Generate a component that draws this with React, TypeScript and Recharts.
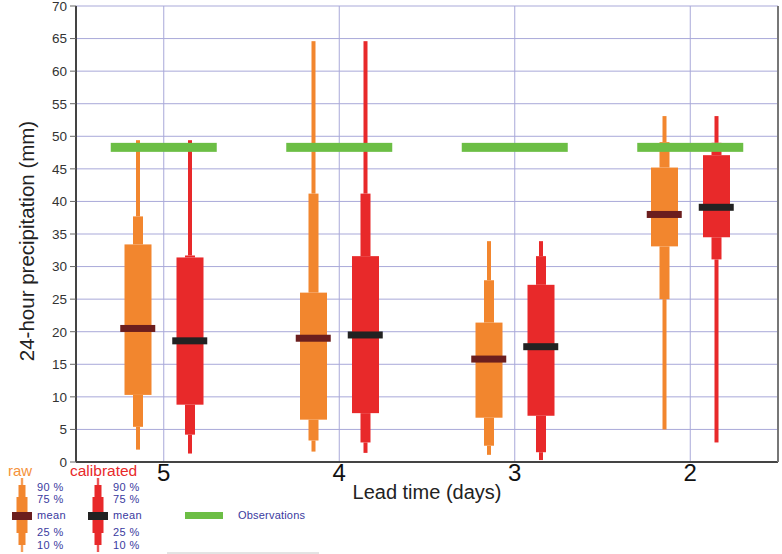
import {
  ComposedChart,
  Bar,
  Scatter,
  XAxis,
  YAxis,
  CartesianGrid,
} from "recharts";

const leadTimes = ["5", "4", "3", "2"];

// raw ensemble percentiles (mm)
const rawMin = [1.9, 1.6, 1.1, 5.0];
const rawP10 = [5.4, 3.3, 2.5, 25.0];
const rawP25 = [10.3, 6.5, 6.8, 33.1];
const rawMean = [20.5, 19.0, 15.8, 38.0];
const rawP75 = [33.4, 26.0, 21.4, 45.2];
const rawP90 = [37.7, 41.2, 27.9, 49.1];
const rawMax = [49.4, 64.6, 33.9, 53.1];

// calibrated ensemble percentiles (mm)
const calMin = [1.3, 1.4, 0.3, 3.0];
const calP10 = [4.2, 3.0, 1.5, 31.1];
const calP25 = [8.8, 7.5, 7.1, 34.5];
const calMean = [18.6, 19.5, 17.7, 39.1];
const calP75 = [31.4, 31.6, 27.2, 47.1];
const calP90 = [31.7, 41.2, 31.6, 49.0];
const calMax = [49.4, 64.6, 33.9, 53.1];

const observed = [48.3, 48.3, 48.3, 48.3];

const yTicks = [0, 5, 10, 15, 20, 25, 30, 35, 40, 45, 50, 55, 60, 65, 70];

const ORANGE = "#f2862e";
const RED = "#e8292a";
const GREEN = "#6cbe45";
const GRID = "#a9a9d9";
const FONT = "'Liberation Sans', Arial, sans-serif";

const data = leadTimes.map((lead, i) => ({
  lead,
  rawBase: rawMin[i],
  rawS1: rawP10[i] - rawMin[i],
  rawS2: rawP25[i] - rawP10[i],
  rawS3: rawP75[i] - rawP25[i],
  rawS4: rawP90[i] - rawP75[i],
  rawS5: rawMax[i] - rawP90[i],
  calBase: calMin[i],
  calS1: calP10[i] - calMin[i],
  calS2: calP25[i] - calP10[i],
  calS3: calP75[i] - calP25[i],
  calS4: calP90[i] - calP75[i],
  calS5: calMax[i] - calP90[i],
  rawMean: rawMean[i],
  calMean: calMean[i],
  obs: observed[i],
}));

const segment = (w: number, color: string) => (props: any) => {
  const { x, y, width, height } = props;
  if (x == null || width == null) return <g />;
  const h = Math.abs(height || 0);
  const top = height < 0 ? y + height : y;
  return (
    <rect x={x + width / 2 - w / 2} y={top} width={w} height={h} fill={color} />
  );
};

const hidden = () => <g />;

const marker = (dx: number, w: number, h: number, color: string) => (props: any) => {
  const { cx, cy } = props;
  if (cx == null || cy == null) return <g />;
  return <rect x={cx + dx - w / 2} y={cy - h / 2} width={w} height={h} fill={color} />;
};

const YLabel = (props: any) => {
  const vb = props.viewBox || { x: 0, y: 6, width: 76, height: 456 };
  const cy = vb.y + vb.height / 2 + 7;
  return (
    <text
      x={34}
      y={cy}
      transform={`rotate(-90, 34, ${cy})`}
      textAnchor="middle"
      fontFamily={FONT}
      fontSize={20.5}
      fill="#222"
    >
      24-hour precipitation (mm)
    </text>
  );
};

function MiniBox({ cx, color, meanColor }: { cx: number; color: string; meanColor: string }) {
  return (
    <g>
      <rect x={cx - 1.2} y={478} width={2.4} height={74} fill={color} opacity={0.8} />
      <rect x={cx - 3.5} y={485} width={7} height={60} fill={color} />
      <rect x={cx - 5.5} y={497} width={11} height={36} fill={color} />
      <rect x={cx - 10} y={512} width={20} height={8} fill={meanColor} />
    </g>
  );
}

function LegendOverlay() {
  const lab = { fontFamily: FONT, fontSize: 11, fill: "#3a3aa0", letterSpacing: 0.4 };
  return (
    <svg
      width={782}
      height={554}
      style={{ position: "absolute", left: 0, top: 0, pointerEvents: "none" }}
    >
      <text x={8} y={476} fontFamily={FONT} fontSize={15} fill="#f5923a">
        raw
      </text>
      <text x={70} y={476} fontFamily={FONT} fontSize={15.5} fill={RED}>
        calibrated
      </text>
      <MiniBox cx={22} color={ORANGE} meanColor="#6b1e1e" />
      <MiniBox cx={98} color={RED} meanColor="#222222" />
      {[37, 113].map((x) => (
        <g key={x}>
          <text x={x} y={491} {...lab}>90 %</text>
          <text x={x} y={503} {...lab}>75 %</text>
          <text x={x} y={519} {...lab}>mean</text>
          <text x={x} y={536} {...lab}>25 %</text>
          <text x={x} y={549} {...lab}>10 %</text>
        </g>
      ))}
      <rect x={185} y={512} width={38} height={7} fill={GREEN} />
      <text x={238} y={519} {...lab} letterSpacing={0.2}>Observations</text>
      <line x1={167} y1={553} x2={319} y2={553} stroke="#c8c8c8" />
    </svg>
  );
}

export default function App() {
  return (
    <div style={{ position: "absolute", left: 0, top: 0, width: 782, height: 554, background: "#fff" }}>
      <ComposedChart
        width={782}
        height={554}
        data={data}
        barGap={16}
        margin={{ top: 6, right: 2, left: 0, bottom: 54 }}
      >
        <CartesianGrid stroke={GRID} />
        <XAxis
          dataKey="lead"
          height={38}
          tickLine={false}
          tickSize={0}
          tickMargin={2}
          axisLine={{ stroke: "#444", strokeWidth: 2 }}
          tick={{ fontFamily: FONT, fontSize: 24, fill: "#111" }}
          label={{
            value: "Lead time (days)",
            position: "insideBottom",
            offset: 1,
            style: { fontFamily: FONT, fontSize: 20, fill: "#222" },
          }}
        />
        <YAxis
          domain={[0, 70]}
          ticks={yTicks}
          width={76}
          tickSize={6}
          tickMargin={3}
          interval={0}
          axisLine={{ stroke: "#444", strokeWidth: 2 }}
          tickLine={{ stroke: "#666" }}
          tick={{ fontFamily: FONT, fontSize: 13.5, fill: "#333" }}
          label={<YLabel />}
        />
        <YAxis
          yAxisId="border"
          orientation="right"
          width={2}
          tick={false}
          tickLine={false}
          axisLine={{ stroke: "#777", strokeWidth: 2 }}
        />

        <Bar dataKey="rawBase" stackId="raw" barSize={36} shape={hidden} isAnimationActive={false} />
        <Bar dataKey="rawS1" stackId="raw" barSize={36} shape={segment(4, ORANGE)} isAnimationActive={false} />
        <Bar dataKey="rawS2" stackId="raw" barSize={36} shape={segment(10, ORANGE)} isAnimationActive={false} />
        <Bar dataKey="rawS3" stackId="raw" barSize={36} shape={segment(27, ORANGE)} isAnimationActive={false} />
        <Bar dataKey="rawS4" stackId="raw" barSize={36} shape={segment(10, ORANGE)} isAnimationActive={false} />
        <Bar dataKey="rawS5" stackId="raw" barSize={36} shape={segment(4, ORANGE)} isAnimationActive={false} />

        <Bar dataKey="calBase" stackId="cal" barSize={36} shape={hidden} isAnimationActive={false} />
        <Bar dataKey="calS1" stackId="cal" barSize={36} shape={segment(4, RED)} isAnimationActive={false} />
        <Bar dataKey="calS2" stackId="cal" barSize={36} shape={segment(10, RED)} isAnimationActive={false} />
        <Bar dataKey="calS3" stackId="cal" barSize={36} shape={segment(27, RED)} isAnimationActive={false} />
        <Bar dataKey="calS4" stackId="cal" barSize={36} shape={segment(10, RED)} isAnimationActive={false} />
        <Bar dataKey="calS5" stackId="cal" barSize={36} shape={segment(4, RED)} isAnimationActive={false} />

        <Scatter dataKey="rawMean" shape={marker(-26, 35, 7, "#6b1e1e")} isAnimationActive={false} />
        <Scatter dataKey="calMean" shape={marker(26, 35, 7, "#222222")} isAnimationActive={false} />
        <Scatter dataKey="obs" shape={marker(0, 106, 9, GREEN)} isAnimationActive={false} />
      </ComposedChart>
      <LegendOverlay />
    </div>
  );
}
